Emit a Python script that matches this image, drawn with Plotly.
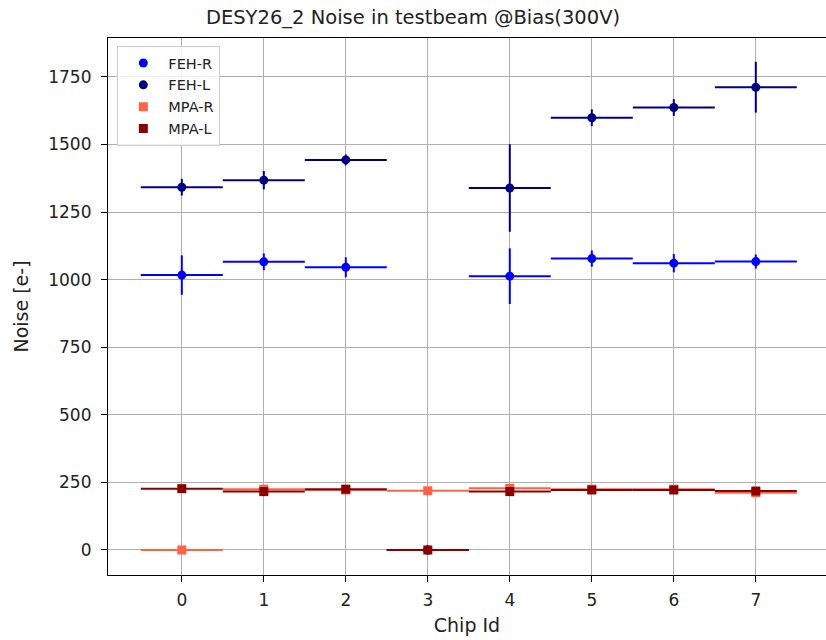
import plotly.graph_objects as go

chips = [0, 1, 2, 3, 4, 5, 6, 7]
feh_r = [1017, 1066, 1046, 0, 1013, 1078, 1061, 1067]
feh_r_err = [73, 31, 37, 0, 103, 30, 34, 26]
feh_l = [1342, 1368, 1443, 0, 1339, 1599, 1637, 1712]
feh_l_err = [31, 34, 20, 0, 162, 31, 31, 94]
mpa_r = [0, 225, 222, 219, 228, 225, 225, 212]
mpa_r_err = [4, 6, 5, 4, 5, 5, 5, 7]
mpa_l = [227, 216, 225, 0, 216, 222, 222, 218]
mpa_l_err = [5, 7, 10, 3, 7, 5, 5, 8]
x_half = [0.5] * 8

series = [
    ("FEH-R", feh_r, feh_r_err, "#0000ff", "circle"),
    ("FEH-L", feh_l, feh_l_err, "#000080", "circle"),
    ("MPA-R", mpa_r, mpa_r_err, "#ff6347", "square"),
    ("MPA-L", mpa_l, mpa_l_err, "#8b0000", "square"),
]

fig = go.Figure()
for name, ys, errs, color, sym in series:
    fig.add_trace(go.Scatter(
        x=chips, y=ys, mode="markers", name=name,
        marker=dict(color=color, symbol=sym, size=9, line=dict(width=0)),
        error_x=dict(type="data", array=x_half, visible=True, color=color, thickness=2, width=0),
        error_y=dict(type="data", array=errs, visible=True, color=color, thickness=2, width=0),
    ))

axis_common = dict(
    showgrid=True, gridcolor="#b0b0b0", gridwidth=1,
    showline=True, linecolor="black", linewidth=1.2, mirror=True,
    ticks="outside", ticklen=6, tickcolor="black",
    zeroline=False, tickfont=dict(size=17, color="#222222"),
)

fig.update_layout(
    width=826, height=640,
    margin=dict(l=108, r=0, t=38, b=65),
    paper_bgcolor="white", plot_bgcolor="white",
    font=dict(family="DejaVu Sans", color="#222222"),
    title=dict(text="DESY26_2 Noise in testbeam @Bias(300V)", x=0.5, xanchor="center",
               y=1 - 17 / 640, yanchor="middle", font=dict(size=19.5)),
    xaxis=dict(range=[-0.9, 7.856], tickmode="array", tickvals=chips, ticklabelstandoff=3,
               title=dict(text="Chip Id", font=dict(size=19), standoff=10), **axis_common),
    yaxis=dict(range=[-92.5, 1894], tickmode="array", ticklabelstandoff=6,
               tickvals=[0, 250, 500, 750, 1000, 1250, 1500, 1750],
               title=dict(text="Noise [e-]", font=dict(size=19), standoff=14), **axis_common),
    legend=dict(x=0.013, y=0.985, xanchor="left", yanchor="top",
                bgcolor="rgba(255,255,255,0.8)", bordercolor="#cccccc", borderwidth=1,
                font=dict(size=14.5), tracegroupgap=0, itemwidth=40),
    showlegend=True,
)

fig.write_html("out.html")
